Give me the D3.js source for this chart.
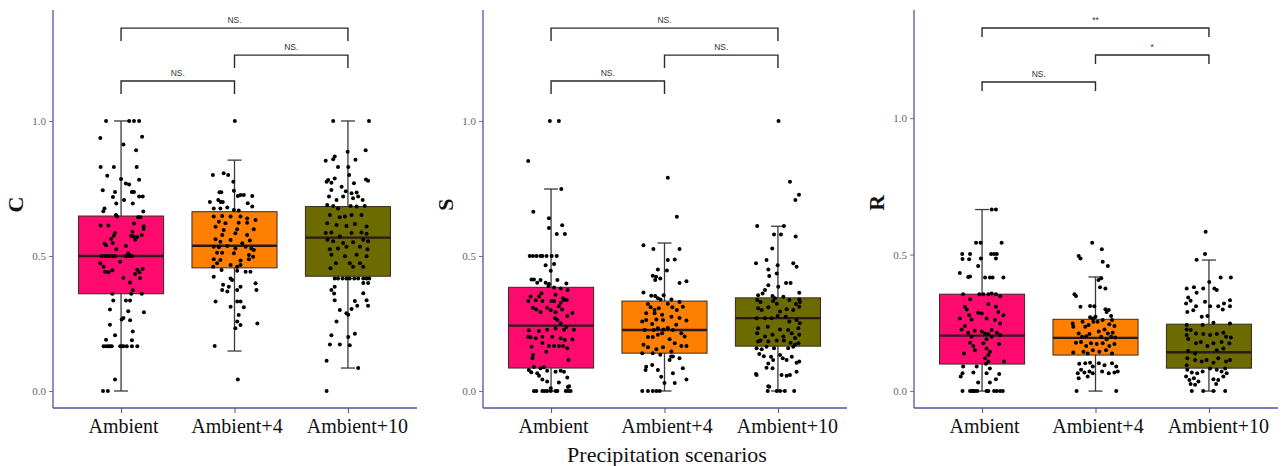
<!DOCTYPE html>
<html>
<head>
<meta charset="utf-8">
<script src="https://cdn.jsdelivr.net/npm/d3@7"></script>
<style>
  body { margin: 0; background: #fff; }
  .tick text { font-family: "Liberation Serif", "Times New Roman", serif; }
</style>
</head>
<body>
<div id="chart"></div>
<script>
// categories and colours
const cats = ["Ambient", "Ambient+4", "Ambient+10"];
const fills = ["#ff0a6e", "#ff7f00", "#6b6b00"];
const panelNames = ["C", "S", "R"];
const yTicks = [0, 0.5, 1.0];

// box stats per category: [lowerWhisker, q1, median, q3, upperWhisker]
const cBoxes = [[0, 0.36, 0.5, 0.648, 1.0], [0.148, 0.456, 0.538, 0.664, 0.855], [0.085, 0.425, 0.568, 0.683, 1.0]];
const sBoxes = [[0, 0.085, 0.242, 0.384, 0.748], [0, 0.14, 0.226, 0.333, 0.548], [0, 0.166, 0.27, 0.345, 0.61]];
const rBoxes = [[0, 0.099, 0.203, 0.355, 0.665], [0, 0.132, 0.195, 0.263, 0.418], [0, 0.084, 0.142, 0.245, 0.48]];

// significance brackets
const pairs = [[0, 2], [1, 2], [0, 1]];
const cSig = ["NS.", "NS.", "NS."];
const sSig = ["NS.", "NS.", "NS."];
const rSig = ["**", "*", "NS."];
const cBracketY = [1.344, 1.244, 1.148];
const sBracketY = [1.344, 1.244, 1.148];
const rBracketY = [1.33, 1.231, 1.132];
const cBracketDrop = [0.048, 0.048, 0.048];
const sBracketDrop = [0.048, 0.048, 0.048];
const rBracketDrop = [0.033, 0.033, 0.033];

// jittered observations: [jitter (-1..1), value]
const cAmb = [[-0.5,1.0],[0.27,1.0],[0.43,1.0],[0.6,1.0],
  [-0.69,0.937],[0.7,0.942],[0.08,0.913],[0.5,0.892],
  [-0.68,0.83],[-0.24,0.83],[0.52,0.83],
  [-0.46,0.797],[0,0.785],[0.16,0.768],[0.27,0.765],[0.6,0.782],
  [-0.61,0.743],[-0.2,0.737],[-0.27,0.718],[0.36,0.737],[0.43,0.737],[0.6,0.72],[0.72,0.72],
  [0.1,0.707],[0.39,0.694],[-0.16,0.694],
  [-0.55,0.676],[-0.59,0.666],[0.74,0.665],
  [-0.17,0.652],[-0.13,0.646],[0.57,0.643],[0.64,0.643],
  [-0.68,0.613],[-0.42,0.613],[0.43,0.62],[0.75,0.61],
  [-0.2,0.585],[-0.24,0.575],[-0.33,0.563],[-0.28,0.548],[-0.5,0.54],[-0.55,0.545],
  [0.38,0.59],[0.34,0.574],[0.42,0.572],[0.47,0.56],
  [0.75,0.6],[0.69,0.578],[0.54,0.57],
  [0.16,0.537],[-0.16,0.525],
  [-0.64,0.5],[-0.53,0.5],[-0.48,0.5],[-0.37,0.5],[-0.28,0.5],[-0.2,0.5],[0.17,0.5],[0.22,0.5],[0.3,0.5],[0.36,0.5],
  [0.24,0.51],[-0.03,0.479],
  [-0.69,0.473],[-0.58,0.46],[-0.53,0.442],[-0.42,0.44],[-0.29,0.447],
  [0.54,0.449],[0.61,0.44],[0.72,0.453],[0.47,0.433],
  [0.08,0.418],[0.3,0.402],[0.63,0.418],
  [-0.29,0.36],[0.34,0.36],[0.39,0.373],
  [0.16,0.335],[0.3,0.335],[-0.26,0.335],[0.69,0.36],
  [-0.37,0.302],[0.24,0.295],[0.76,0.292],
  [0.08,0.27],[0.02,0.265],[0.3,0.262],
  [-0.37,0.245],[0.39,0.22],[-0.2,0.206],
  [-0.5,0.19],[0.36,0.188],
  [-0.58,0.166],[-0.5,0.166],[-0.42,0.166],[-0.37,0.166],[-0.31,0.166],[-0.03,0.166],[0.02,0.166],[0.08,0.166],[0.19,0.166],[0.36,0.166],[0.54,0.166],
  [-0.2,0.043],
  [-0.6,0],[-0.44,0]];

const cA4 = [[0.01,1.0],
  [-0.72,0.80],[-0.36,0.806],[-0.21,0.80],[-0.04,0.775],
  [-0.5,0.736],[-0.44,0.736],[-0.02,0.742],
  [0.11,0.722],[0.2,0.726],[0.31,0.726],[0.59,0.722],
  [-0.82,0.70],[-0.54,0.707],[-0.46,0.70],[-0.39,0.70],
  [0.44,0.695],[0.59,0.683],
  [-0.69,0.676],[-0.47,0.676],[-0.24,0.68],[-0.02,0.67],[0.14,0.668],
  [-0.69,0.646],[-0.41,0.648],[-0.13,0.646],[0.2,0.646],[0.42,0.639],[0.7,0.633],
  [-0.52,0.627],[-0.3,0.621],[0.14,0.623],[0.42,0.623],
  [-0.63,0.608],[-0.36,0.596],[0.09,0.599],[0.64,0.599],
  [0.03,0.584],[-0.41,0.578],[0.42,0.578],
  [-0.63,0.562],[-0.47,0.553],[-0.13,0.559],[0.26,0.547],[0.51,0.557],
  [-0.69,0.534],[-0.52,0.532],[-0.24,0.537],[0.03,0.528],[0.37,0.534],[0.56,0.528],[0.64,0.522],
  [-0.58,0.512],[-0.41,0.512],[-0.02,0.51],[0.48,0.504],[0.62,0.497],
  [-0.69,0.488],[-0.47,0.485],[0.2,0.483],[0.48,0.488],
  [-0.71,0.46],[-0.58,0.473],[-0.13,0.467],[0.09,0.46],[0.2,0.467],
  [-0.43,0.448],[0.09,0.445],[0.37,0.442],[0.53,0.442],
  [-0.69,0.423],[-0.13,0.417],[-0.08,0.411],
  [-0.38,0.393],[-0.19,0.386],[0.2,0.386],[0.7,0.399],
  [-0.41,0.374],[-0.24,0.368],[0.09,0.374],[0.73,0.374],
  [-0.63,0.331],[0.09,0.331],[0.2,0.331],
  [-0.13,0.312],[0.31,0.31],
  [0.14,0.281],[0.09,0.257],[0.2,0.244],[0.76,0.25],
  [0.03,0.232],
  [-0.66,0.167],
  [0.11,0.043]];

const cA10 = [[-0.49,1.0],[0.7,1.0],
  [-0.01,0.886],[0.59,0.892],
  [-0.74,0.853],[-0.44,0.868],[-0.49,0.858],[0.25,0.856],
  [-0.33,0.83],[0.01,0.83],
  [-0.71,0.775],[-0.66,0.781],[-0.55,0.771],[-0.44,0.787],
  [0.04,0.8],[0.2,0.769],[0.6,0.783],[0.67,0.779],
  [-0.55,0.744],[-0.21,0.756],[-0.07,0.74],[0.12,0.732],[0.29,0.735],
  [-0.63,0.72],[-0.38,0.707],[-0.16,0.72],[0.17,0.714],[0.34,0.72],[0.49,0.707],
  [-0.69,0.689],[-0.49,0.685],[-0.33,0.676],[0.09,0.685],[0.29,0.683],[0.56,0.685],
  [-0.6,0.652],[-0.27,0.643],[-0.1,0.646],[0.12,0.652],[0.45,0.652],
  [-0.69,0.621],[-0.38,0.615],[-0.05,0.611],[0.23,0.618],[0.62,0.609],
  [-0.74,0.585],[-0.55,0.587],[-0.27,0.572],[0.12,0.585],[0.45,0.587],[0.62,0.582],
  [-0.68,0.56],[-0.49,0.555],[-0.16,0.548],[0.17,0.551],[0.51,0.56],[0.67,0.555],
  [-0.6,0.525],[-0.33,0.528],[-0.05,0.534],[0.4,0.534],[0.65,0.525],
  [-0.55,0.505],[-0.1,0.499],[0.29,0.505],[0.62,0.499],
  [-0.4,0.473],[0.06,0.473],[0.4,0.473],[0.51,0.46],
  [-0.58,0.455],[0.17,0.46],
  [-0.44,0.417],[-0.33,0.417],[-0.18,0.417],[-0.05,0.417],[0.06,0.417],[0.21,0.417],[0.34,0.417],[0.51,0.417],[0.62,0.417],[0.71,0.417],
  [-0.44,0.386],[-0.55,0.374],[0.51,0.4],[0.67,0.4],
  [-0.46,0.361],[0.51,0.362],
  [-0.44,0.336],[0.23,0.333],[0.31,0.316],[0.12,0.304],[0.62,0.336],[0.67,0.316],
  [-0.27,0.3],[-0.05,0.288],[0.01,0.282],[-0.38,0.257],
  [-0.55,0.206],[-0.6,0.172],[-0.27,0.172],[0.01,0.2],[0.06,0.169],[0.23,0.212],
  [-0.71,0.112],[0.34,0.085],
  [-0.71,0]];

const sAmb = [[-0.04,1.0],[0.26,1.0],
  [-0.76,0.852],[0.34,0.748],[-0.59,0.664],[-0.07,0.64],[-0.07,0.604],[0.37,0.614],[0.19,0.581],[0.46,0.581],
  [-0.71,0.5],[-0.6,0.5],[-0.48,0.5],[-0.35,0.5],[-0.29,0.5],[-0.15,0.5],[0.02,0.5],[0.19,0.5],
  [-0.18,0.466],[0.1,0.47],[-0.01,0.445],
  [-0.65,0.413],[-0.57,0.413],[-0.35,0.411],[-0.18,0.401],[-0.07,0.396],[0.21,0.411],[0.51,0.398],[-0.46,0.401],
  [-0.09,0.389],[0.1,0.383],[0.32,0.38],[0.55,0.374],
  [-0.68,0.35],[-0.4,0.35],[-0.32,0.362],[0.15,0.356],[0.4,0.343],[0.52,0.337],
  [-0.76,0.333],[-0.51,0.336],[-0.29,0.333],[0.01,0.333],[0.1,0.333],[0.32,0.327],[0.43,0.337],
  [-0.6,0.308],[-0.49,0.302],[-0.35,0.293],[-0.13,0.308],[-0.01,0.299],[0.15,0.292],[0.26,0.314],[0.37,0.302],[0.71,0.289],
  [0.13,0.269],[0.21,0.263],[0.54,0.278],[0.32,0.251],
  [-0.74,0.225],[-0.4,0.222],[-0.13,0.227],[0.15,0.231],[0.43,0.227],[0.51,0.237],[0.76,0.227],
  [-0.76,0.201],[-0.68,0.199],[-0.51,0.195],[-0.29,0.201],[0.04,0.201],[0.32,0.195],[0.46,0.189],[0.71,0.191],
  [-0.07,0.167],[0.1,0.167],[0.26,0.167],[0.4,0.167],
  [-0.65,0.164],[-0.6,0.133],[-0.62,0.121],[-0.29,0.178],[-0.16,0.145],[0.54,0.158],[0.58,0.115],
  [-0.74,0.078],[-0.66,0.069],[-0.46,0.066],[-0.4,0.056],[-0.35,0.084],[-0.24,0.088],[-0.13,0.075],
  [-0.57,0.089],[0.15,0.071],[0.32,0.075],[0.43,0.071],
  [-0.29,0.043],[0.54,0.05],[-0.13,0.035],[0.26,0.031],[0.6,0.018],
  [-0.01,0.01],[0.56,0.015],
  [-0.57,0],[-0.49,0],[-0.29,0],[-0.21,0],[-0.13,0],[-0.01,0],[0.15,0],[0.21,0],[0.49,0],[0.57,0],[0.65,0]];

const sA4 = [[0.11,0.79],[0.41,0.645],
  [-0.7,0.54],[-0.37,0.526],[0.5,0.526],
  [0.11,0.485],[0.34,0.487],
  [-0.22,0.45],[0.08,0.446],
  [-0.39,0.427],[-0.28,0.423],[-0.14,0.417],[-0.31,0.411],[0.5,0.4],[0.73,0.406],
  [-0.7,0.365],
  [-0.44,0.353],[-0.31,0.352],[-0.22,0.343],[-0.13,0.339],[-0.03,0.355],[0.23,0.339],[0.5,0.33],
  [-0.55,0.322],[-0.46,0.31],[-0.33,0.3],[-0.19,0.306],[0.11,0.323],[0.26,0.31],[0.41,0.3],[0.61,0.312],
  [-0.61,0.288],[-0.33,0.288],[-0.08,0.282],
  [0.23,0.275],[0.5,0.27],[0.73,0.261],[0.39,0.245],
  [-0.74,0.257],[-0.61,0.263],[-0.41,0.248],[-0.27,0.265],[-0.05,0.263],
  [-0.66,0.226],[-0.36,0.226],[-0.22,0.232],[-0.03,0.228],[0.11,0.233],[0.28,0.226],[0.56,0.214],[0.67,0.202],
  [-0.55,0.2],[-0.39,0.2],[-0.22,0.208],[-0.08,0.214],
  [0.17,0.192],[0.34,0.177],[0.56,0.167],[0.73,0.167],
  [-0.7,0.171],[-0.55,0.162],[-0.27,0.155],[-0.05,0.162],
  [-0.74,0.14],[-0.39,0.14],[-0.14,0.134],[0.23,0.146],
  [0.22,0.128],[0.17,0.115],[0.5,0.121],[0.28,0.128],
  [-0.61,0.09],[-0.63,0.078],[-0.41,0.096],[-0.22,0.078],[-0.11,0.053],[0.28,0.066],[0.61,0.084],
  [0.0,0.03],[0.34,0.03],[0.73,0.043],
  [-0.74,0],[-0.55,0],[-0.39,0],[-0.27,0],[-0.16,0]];

const sA10 = [[0.02,1.0],[0.4,0.775],[0.7,0.727],[0.58,0.707],
  [-0.69,0.611],[0.2,0.611],[0.1,0.58],[-0.13,0.58],[0.59,0.572],
  [-0.19,0.528],
  [-0.73,0.473],[-0.38,0.485],[-0.01,0.466],[0.51,0.473],[0.62,0.46],
  [-0.32,0.45],[-0.29,0.426],[-0.04,0.435],[0.27,0.4],[0.42,0.4],[0.71,0.364],[-0.32,0.392],[-0.43,0.374],[0.01,0.386],
  [-0.66,0.355],[-0.51,0.361],[-0.18,0.352],[-0.1,0.343],[0.18,0.349],[0.38,0.337],[0.71,0.339],
  [-0.69,0.337],[-0.58,0.33],[-0.16,0.333],[-0.04,0.323],[0.6,0.322],[0.73,0.33],
  [-0.66,0.306],[-0.54,0.3],[-0.32,0.31],[0.07,0.294],[0.29,0.303],[0.51,0.3],[0.71,0.312],
  [-0.71,0.269],[-0.43,0.269],[-0.21,0.269],[-0.01,0.278],[0.26,0.275],[0.38,0.257],[0.62,0.263],[0.73,0.251],
  [-0.66,0.232],[-0.34,0.238],[0.07,0.228],[0.34,0.226],[0.68,0.232],
  [-0.69,0.214],[-0.43,0.202],[-0.18,0.208],[0.18,0.202],[0.46,0.214],[0.57,0.196],[0.71,0.208],
  [-0.66,0.183],[-0.58,0.187],[-0.32,0.183],[-0.04,0.187],[0.2,0.187],[0.42,0.179],[0.57,0.171],[0.68,0.177],
  [-0.71,0.158],[-0.54,0.155],[-0.38,0.164],[-0.13,0.158],[0.34,0.158],[0.51,0.164],
  [-0.62,0.137],[-0.47,0.129],[-0.23,0.127],[0.07,0.133],[0.16,0.121],[0.29,0.115],[0.46,0.127],[0.62,0.105],
  [-0.32,0.102],[-0.16,0.115],
  [-0.38,0.086],[-0.18,0.084],[0.12,0.059],[0.29,0.056],[0.4,0.059],[0.62,0.071],[0.71,0.109],
  [-0.71,0.059],[-0.73,0.063],[-0.32,0.018],[-0.29,0.016],
  [-0.34,0],[-0.04,0],[0.07,0],[0.23,0],[0.54,0]];

const rAmb = [[0.32,0.665],[0.46,0.665],
  [-0.2,0.543],[-0.05,0.543],[0.65,0.543],
  [-0.66,0.502],[-0.4,0.502],[-0.65,0.484],[-0.43,0.483],[-0.04,0.486],
  [0.3,0.502],[0.4,0.502],[0.49,0.502],[0.46,0.486],[-0.13,0.458],
  [-0.74,0.433],[-0.46,0.418],[-0.4,0.42],
  [0.1,0.416],[0.26,0.416],[0.35,0.416],[0.71,0.416],
  [-0.63,0.355],[-0.09,0.355],[0.04,0.355],[0.21,0.355],[0.32,0.357],[0.46,0.355],[0.6,0.347],
  [-0.57,0.309],[-0.51,0.299],[-0.4,0.336],[-0.13,0.287],[0.21,0.319],[-0.01,0.284],[0.71,0.278],[0.54,0.29],[0.46,0.309],[-0.43,0.278],
  [-0.74,0.266],[-0.35,0.262],[-0.57,0.238],[0.43,0.26],[0.6,0.248],[0.15,0.266],
  [-0.68,0.226],[-0.46,0.214],[-0.35,0.199],[-0.24,0.221],[-0.01,0.218],[0.1,0.211],[0.21,0.209],[0.32,0.224],[0.49,0.214],[0.6,0.205],[0.15,0.19],[0.32,0.199],
  [-0.4,0.177],[-0.29,0.165],[0.04,0.175],[0.57,0.172],[0.15,0.156],[0.26,0.144],[0.21,0.132],[0.1,0.12],[0.21,0.108],
  [-0.6,0.138],[-0.24,0.15],[0.73,0.108],[-0.63,0.09],[-0.18,0.09],[0.13,0.1],[0.26,0.083],
  [-0.65,0.065],[-0.29,0.068],[0.15,0.065],[0.57,0.063],[-0.71,0.053],[-0.13,0.031],[0.26,0.031],[0.46,0.043],
  [-0.65,0],[-0.4,0],[-0.35,0],[-0.29,0],[-0.24,0],[-0.16,0],[0.15,0],[0.21,0],[0.4,0],[0.49,0],[0.6,0],[0.69,0]];

const rA4 = [[-0.11,0.543],[0.21,0.52],
  [-0.5,0.486],[-0.56,0.495],[0.24,0.474],[0.41,0.458],
  [0.1,0.407],[0.19,0.413],[0.15,0.38],[0.33,0.376],
  [-0.7,0.355],[-0.65,0.348],
  [-0.18,0.312],[-0.5,0.309],[-0.04,0.311],
  [0.33,0.3],[0.44,0.297],[0.52,0.275],[0.37,0.29],
  [-0.18,0.27],[0,0.272],[-0.09,0.266],
  [-0.76,0.248],[-0.74,0.236],[-0.43,0.254],[-0.34,0.236],[-0.23,0.242],[-0.07,0.254],
  [0.07,0.254],[0.24,0.26],[0.55,0.26],[0.46,0.245],[0.63,0.238],
  [-0.56,0.211],[-0.45,0.199],[-0.31,0.201],[-0.2,0.209],
  [0.11,0.218],[0.3,0.226],[0.41,0.211],[0.57,0.214],[0.19,0.199],[0.37,0.19],[0.52,0.199],[0.66,0.196],
  [-0.65,0.177],[-0.48,0.18],[-0.31,0.165],[-0.15,0.175],
  [0.04,0.172],[0.24,0.175],[0.46,0.165],[0.63,0.172],
  [-0.74,0.141],[-0.4,0.144],[-0.26,0.138],[-0.09,0.15],
  [0.13,0.144],[0.35,0.15],[0.55,0.138],
  [-0.54,0.1],[-0.34,0.102],[-0.18,0.104],[-0.09,0.09],
  [0.11,0.102],[0.3,0.095],[0.55,0.102],[0.69,0.09],
  [-0.48,0.078],[-0.59,0.065],[-0.37,0.068],[-0.2,0.072],[-0.09,0.065],
  [0.22,0.072],[0.44,0.065],[0.63,0.068],[0.74,0.072],
  [-0.56,0.047],[-0.26,0.053],
  [-0.63,0],[0.69,0]];

const rA10 = [[-0.11,0.584],[-0.13,0.502],[-0.41,0.481],
  [-0.74,0.376],[-0.5,0.38],[-0.41,0.36],[-0.19,0.376],[0.01,0.4],[0.18,0.376],[0.39,0.416],[0.73,0.416],[0.26,0.37],
  [-0.69,0.343],[-0.61,0.331],[-0.76,0.321],[-0.43,0.311],[-0.13,0.327],[0.04,0.311],[0.31,0.311],[0.46,0.299],[0.7,0.333],[0.7,0.311],[0.5,0.321],
  [-0.72,0.29],[-0.52,0.296],[-0.24,0.272],[-0.05,0.275],[0.15,0.25],[-0.74,0.242],[-0.21,0.242],[0.7,0.248],
  [-0.74,0.226],[-0.61,0.224],[-0.43,0.211],[-0.19,0.209],[0.04,0.205],[0.26,0.209],[0.48,0.214],[0.57,0.199],[0.73,0.196],[-0.74,0.205],
  [-0.69,0.191],[-0.43,0.175],[-0.27,0.18],[-0.05,0.165],[0.15,0.175],[0.42,0.18],[0.68,0.175],[0.48,0.156],[0.26,0.15],[-0.69,0.147],[-0.46,0.138],
  [-0.72,0.12],[-0.46,0.114],[-0.24,0.108],[-0.08,0.114],[0.15,0.104],[0.31,0.12],[0.57,0.108],[0.7,0.114],[-0.74,0.095],
  [-0.72,0.078],[-0.57,0.068],[-0.39,0.065],[-0.21,0.072],[0.04,0.083],[0.26,0.078],[0.42,0.072],[0.54,0.083],[0.59,0.065],[-0.76,0.053],
  [-0.65,0.041],[-0.5,0.047],[-0.35,0.035],[0.15,0.043],[0.31,0.041],[0.48,0.053],[-0.61,0.026],[-0.46,0.023],[0.24,0.026],
  [-0.57,0],[-0.19,0],[0.15,0],[0.54,0]];

const panels = [
  {name: "C", boxes: cBoxes, pts: [cAmb, cA4, cA10], sig: cSig, by: cBracketY, drop: cBracketDrop, ydom: [-0.063, 1.411]},
  {name: "S", boxes: sBoxes, pts: [sAmb, sA4, sA10], sig: sSig, by: sBracketY, drop: sBracketDrop, ydom: [-0.063, 1.411]},
  {name: "R", boxes: rBoxes, pts: [rAmb, rA4, rA10], sig: rSig, by: rBracketY, drop: rBracketDrop, ydom: [-0.062, 1.396]}
];

const width = 1283, height = 466;
const panelLeft = [53, 483, 914];
const plotW = 363, plotTop = 10, plotBottom = 408;
const axisColor = "#5252a0";
const serif = "'Liberation Serif', 'Times New Roman', serif";
const labelShift = [2, 2, 9];

const svg = d3.select("#chart").append("svg")
    .attr("width", width)
    .attr("height", height)
    .style("background", "#fff");

panels.forEach((p, pi) => {
    let x0 = panelLeft[pi];
    let xScale = d3.scalePoint().domain(cats).range([x0, x0 + plotW]).padding(0.6);
    let step = xScale.step();
    let boxW = step * 0.75;
    let capW = 14;
    let jitterW = step * 0.265;
    let yScale = d3.scaleLinear().domain(p.ydom).range([plotBottom, plotTop]);

    let g = svg.append("g").attr("class", "panel");

    // whiskers
    let wk = g.selectAll("g.whisker").data(p.boxes).enter().append("g").attr("class", "whisker");
    wk.append("line")
        .attr("x1", (d, i) => xScale(cats[i])).attr("x2", (d, i) => xScale(cats[i]))
        .attr("y1", d => yScale(d[0])).attr("y2", d => yScale(d[4]))
        .attr("stroke", "#3a3a3a").attr("stroke-width", 1.3);
    [0, 4].forEach(k => {
        wk.append("line")
            .attr("x1", (d, i) => xScale(cats[i]) - capW / 2).attr("x2", (d, i) => xScale(cats[i]) + capW / 2)
            .attr("y1", d => yScale(d[k])).attr("y2", d => yScale(d[k]))
            .attr("stroke", "#3a3a3a").attr("stroke-width", 1.3);
    });

    // boxes
    g.selectAll("rect.box").data(p.boxes).enter().append("rect")
        .attr("class", "box")
        .attr("x", (d, i) => xScale(cats[i]) - boxW / 2)
        .attr("width", boxW)
        .attr("y", d => yScale(d[3]))
        .attr("height", d => yScale(d[1]) - yScale(d[3]))
        .attr("fill", (d, i) => fills[i])
        .attr("stroke", "#3b2a20")
        .attr("stroke-width", 1);

    g.selectAll("line.median").data(p.boxes).enter().append("line")
        .attr("class", "median")
        .attr("x1", (d, i) => xScale(cats[i]) - boxW / 2)
        .attr("x2", (d, i) => xScale(cats[i]) + boxW / 2)
        .attr("y1", d => yScale(d[2])).attr("y2", d => yScale(d[2]))
        .attr("stroke", "#2a1a18").attr("stroke-width", 2.4);

    // points
    p.pts.forEach((arr, ci) => {
        g.selectAll("circle.pt" + ci).data(arr).enter().append("circle")
            .attr("class", "pt" + ci)
            .attr("cx", d => xScale(cats[ci]) + d[0] * jitterW)
            .attr("cy", d => yScale(d[1]))
            .attr("r", 2)
            .attr("fill", "#000");
    });

    // axes
    let axisY = d3.axisLeft(yScale).tickValues(yTicks).tickFormat(d3.format(".1f")).tickSize(4).tickPadding(3);
    let gy = g.append("g").attr("transform", "translate(" + x0 + ",0)").call(axisY);
    gy.select(".domain").remove();
    gy.selectAll(".tick line").attr("stroke", "#777");
    gy.selectAll(".tick text").attr("fill", "#666").style("font-size", "11px");
    g.append("line").attr("x1", x0).attr("x2", x0).attr("y1", plotTop).attr("y2", plotBottom)
        .attr("stroke", axisColor).attr("stroke-width", 1.3);

    let axisX = d3.axisBottom(xScale).tickSize(5).tickPadding(6);
    let gx = g.append("g").attr("transform", "translate(0," + plotBottom + ")").call(axisX);
    gx.select(".domain").remove();
    gx.selectAll(".tick line").attr("stroke", "#555");
    gx.selectAll(".tick text").attr("fill", "#111").style("font-size", "20px")
        .attr("dx", (d, i) => labelShift[i]);
    g.append("line").attr("x1", x0).attr("x2", x0 + plotW + 1).attr("y1", plotBottom).attr("y2", plotBottom)
        .attr("stroke", axisColor).attr("stroke-width", 1.3);

    // y title
    g.append("text")
        .attr("transform", "translate(" + (x0 - 30) + "," + yScale(0.69) + ") rotate(-90)")
        .attr("text-anchor", "middle")
        .style("font-family", serif)
        .style("font-size", "22px")
        .style("font-weight", "bold")
        .attr("fill", "#111")
        .text(p.name);

    // significance brackets
    let br = g.selectAll("g.bracket").data(pairs).enter().append("g").attr("class", "bracket");
    br.append("path")
        .attr("d", (d, k) => {
            let xa = xScale(cats[d[0]]), xb = xScale(cats[d[1]]);
            let yt = yScale(p.by[k]), yb = yScale(p.by[k] - p.drop[k]);
            return "M" + xa + "," + yb + "V" + yt + "H" + xb + "V" + yb;
        })
        .attr("fill", "none").attr("stroke", "#2a2a2a").attr("stroke-width", 1.4);
    br.append("text")
        .attr("x", d => (xScale(cats[d[0]]) + xScale(cats[d[1]])) / 2)
        .attr("y", (d, k) => yScale(p.by[k]) - 5)
        .attr("text-anchor", "middle")
        .style("font-family", "'Liberation Sans', Arial, sans-serif")
        .style("font-size", "8.5px")
        .attr("fill", "#333")
        .text((d, k) => p.sig[k]);
});

// shared x title
svg.append("text")
    .attr("x", 667)
    .attr("y", 462)
    .attr("text-anchor", "middle")
    .style("font-family", serif)
    .style("font-size", "22px")
    .attr("fill", "#111")
    .text("Precipitation scenarios");
</script>
</body>
</html>
